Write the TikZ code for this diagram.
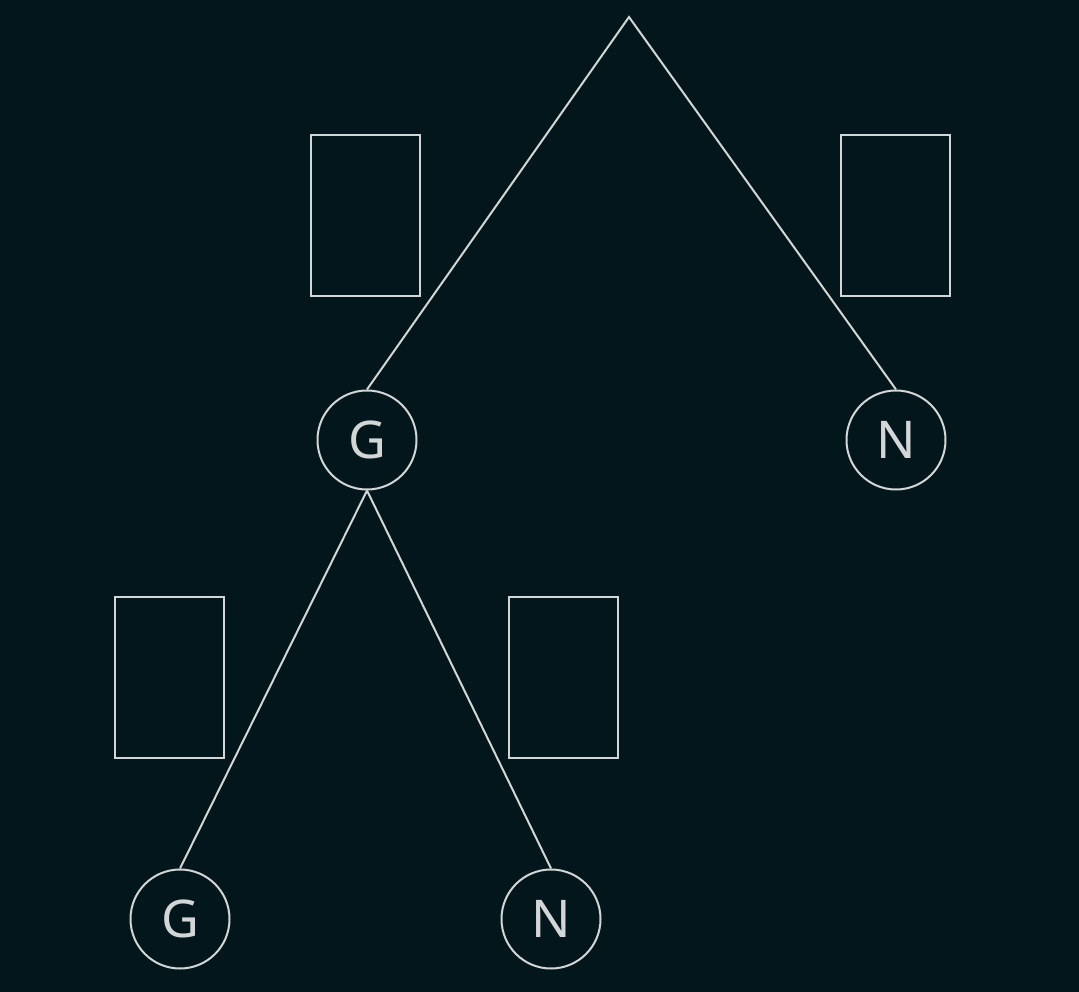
\documentclass[tikz,border=0pt]{standalone}
\usepackage{fontspec}
\setmainfont{Noto Sans}
\definecolor{bg}{HTML}{03161B}
\definecolor{fg}{HTML}{D2D6D7}
\begin{document}
\begin{tikzpicture}[x=1pt,y=-1pt,
  lbl/.style={circle,draw=fg,line width=2pt,minimum size=99pt,inner sep=0pt,text=fg,font=\fontsize{52}{52}\selectfont},
  box/.style={draw=fg,line width=2pt,minimum width=109pt,minimum height=161pt,inner sep=0pt},
  edge/.style={draw=fg,line width=2pt}]
\fill[bg] (0,0) rectangle (1079,992);
\useasboundingbox (0,0) rectangle (1079,992);
\coordinate (top) at (629,17);
\node[box] (b1) at (365.5,215.5) {};
\node[box] (b2) at (895.5,215.5) {};
\node[box] (b3) at (169.5,677) {};
\node[box] (b4) at (563.5,677) {};
\node[lbl] (g1) at (367,440) {G};
\node[lbl] (n1) at (896,440) {N};
\node[lbl] (g2) at (180,919) {G};
\node[lbl] (n2) at (551,919) {N};
\draw[edge] (g1.north) -- (top) -- (n1.north);
\draw[edge] (g1.south) -- (g2.north);
\draw[edge] (g1.south) -- (n2.north);
\end{tikzpicture}
\end{document}
